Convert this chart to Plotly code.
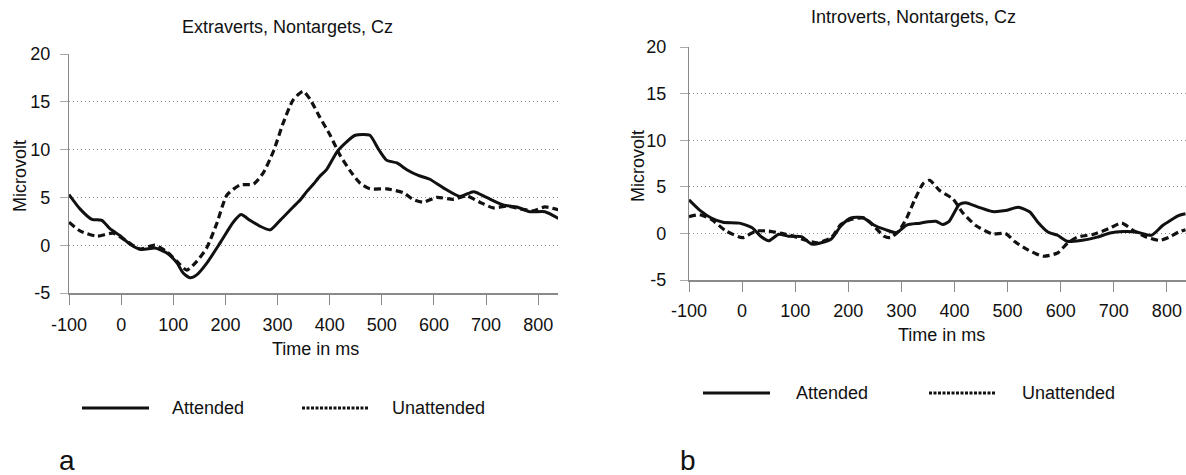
import plotly.graph_objects as go

W, H = 1186, 475

# ---------------- data ----------------
ticks_x = [-100, 0, 100, 200, 300, 400, 500, 600, 700, 800]
ticks_x_text = ["-100", "0", "100", "200", "300", "400", "500", "600", "700", "800"]
ticks_y = [-5, 0, 5, 10, 15, 20]
ticks_y_text = ["-5", "0", "5", "10", "15", "20"]

ext_att_t = [-100, -79, -56, -37, -21, -2, 17, 39, 65, 87, 107, 119, 132, 145, 164, 190, 215, 230, 247, 266,
             286, 305, 330, 343, 356, 369, 381, 394, 416, 449, 477, 493, 509, 529, 548, 570, 592, 618, 650, 676,
             701, 733, 759, 784, 813, 839]
ext_att_v = [5.3, 3.8, 2.7, 2.6, 1.7, 1.0, 0.1, -0.45, -0.3, -0.8, -1.85, -2.9, -3.4, -3.1, -1.9, 0.25, 2.4, 3.2, 2.6, 2.0,
             1.6, 2.6, 4.0, 4.7, 5.6, 6.4, 7.2, 7.9, 9.9, 11.5, 11.5, 10.1, 8.9, 8.6, 7.9, 7.3, 6.9, 6.0, 5.1, 5.6,
             5.0, 4.2, 4.0, 3.5, 3.5, 2.8]

ext_un_t = [-100, -79, -47, -15, 11, 36, 65, 87, 107, 126, 145, 164, 183, 203, 228, 254, 273, 292, 311, 330,
            349, 362, 381, 401, 420, 439, 458, 477, 509, 541, 560, 580, 605, 637, 663, 688, 714, 740, 765, 791,
            813, 839]
ext_un_v = [2.4, 1.5, 0.95, 1.25, 0.4, -0.4, 0.0, -0.65, -1.7, -2.6, -1.7, -0.3, 2.2, 5.25, 6.3, 6.4, 7.6, 9.8, 12.8, 15.2,
            16.1, 15.3, 13.4, 11.5, 9.4, 7.8, 6.5, 5.9, 5.9, 5.5, 4.8, 4.5, 5.0, 4.8, 5.15, 4.5, 3.9, 4.1, 3.8, 3.6,
            4.0, 3.7]

int_att_t = [-100, -80, -58, -36, -5, 19, 35, 50, 69, 87, 112, 131, 149, 168, 186, 205, 227, 248, 270, 291,
             310, 335, 350, 365, 378, 390, 409, 421, 446, 471, 496, 520, 542, 557, 576, 594, 613, 638, 669, 693,
             718, 743, 771, 792, 822, 835]
int_att_v = [3.6, 2.5, 1.65, 1.2, 1.1, 0.6, -0.3, -0.8, -0.1, -0.3, -0.35, -1.15, -1.0, -0.6, 0.8, 1.65, 1.7, 0.9, 0.4, 0.07,
             0.9, 1.1, 1.25, 1.3, 0.95, 1.3, 3.1, 3.3, 2.8, 2.35, 2.45, 2.8, 2.3, 1.2, 0.15, -0.2, -0.85, -0.75, -0.4, 0.05,
             0.2, 0.15, -0.2, 0.85, 1.9, 2.1]

int_un_t = [-100, -80, -58, -30, 1, 26, 50, 75, 97, 118, 143, 168, 186, 205, 230, 248, 267, 279, 295, 310,
            325, 341, 353, 372, 397, 415, 440, 471, 496, 514, 539, 567, 594, 613, 631, 662, 690, 715, 737, 762,
            786, 805, 822, 835]
int_un_v = [1.8, 2.0, 1.5, 0.25, -0.45, 0.25, 0.25, 0.0, -0.3, -0.7, -1.0, -0.45, 0.95, 1.5, 1.65, 0.8, -0.3, -0.45, 0.25, 1.65,
            3.6, 5.35, 5.7, 4.6, 3.7, 2.25, 0.85, -0.05, 0.0, -0.9, -1.8, -2.45, -2.1, -1.05, -0.4, -0.1, 0.5, 1.1, 0.3, -0.4,
            -0.75, -0.4, 0.15, 0.4]

panel_titles = ["Extraverts, Nontargets, Cz", "Introverts, Nontargets, Cz"]
series_names = ["Attended", "Unattended"]
panel_letters = ["a", "b"]

# ---------------- figure ----------------
FONT = "Liberation Sans, Arial, Helvetica, sans-serif"
INK = "#111111"
AX = "#8a8a8a"

fig = go.Figure()

def add_pair(t_a, v_a, t_u, v_u, xa, ya):
    fig.add_trace(go.Scatter(x=t_a, y=v_a, mode="lines", name=series_names[0], xaxis=xa, yaxis=ya,
                             line=dict(color=INK, width=3, shape="spline", smoothing=0.6), showlegend=False))
    fig.add_trace(go.Scatter(x=t_u, y=v_u, mode="lines", name=series_names[1], xaxis=xa, yaxis=ya,
                             line=dict(color=INK, width=3.2, dash="7px,4px", shape="spline", smoothing=0.6),
                             showlegend=False))

add_pair(ext_att_t, ext_att_v, ext_un_t, ext_un_v, "x", "y")
add_pair(int_att_t, int_att_v, int_un_t, int_un_v, "x2", "y2")

def px(xp):
    return xp / W

def py(yp):
    return 1 - yp / H

def xaxis(dom, rng, standoff, anchor):
    return dict(domain=dom, range=rng, tickvals=ticks_x, ticktext=ticks_x_text, ticks="outside", ticklen=10,
                tickwidth=1, tickcolor=AX, showline=True, linecolor=AX, linewidth=1.5, showgrid=False,
                zeroline=False, automargin=False, anchor=anchor, ticklabeloverflow="allow",
                tickfont=dict(family=FONT, size=18, color=INK), ticklabelstandoff=standoff, fixedrange=True)

def yaxis(dom, standoff, anchor):
    return dict(domain=dom, range=[-5, 20], tickvals=ticks_y, ticktext=ticks_y_text, ticks="outside", ticklen=8,
                tickwidth=1, tickcolor="#aaaaaa", showline=True, linecolor=AX, linewidth=1.2, showgrid=True,
                gridcolor="#8f8f8f", griddash="1px,3px", gridwidth=1, zeroline=False, anchor=anchor,
                automargin=False, ticklabeloverflow="allow",
                tickfont=dict(family=FONT, size=18, color=INK), ticklabelstandoff=standoff, fixedrange=True)

fig.update_layout(
    width=W, height=H,
    margin=dict(l=0, r=0, t=0, b=0, autoexpand=False),
    paper_bgcolor="white", plot_bgcolor="white",
    showlegend=False,
    xaxis=xaxis([px(69), px(558)], [-100, 838], 5, "y"),
    yaxis=yaxis([py(293), py(54)], 6, "x"),
    xaxis2=xaxis([px(689), 1.0], [-100, 836], 4, "y2"),
    yaxis2=yaxis([py(280), py(47)], 10, "x2"),
)

ann = []
def text(s, x, y, size=18, angle=0):
    ann.append(dict(text=s, x=px(x), y=py(y), xref="paper", yref="paper", showarrow=False,
                    xanchor="center", yanchor="middle", textangle=angle,
                    font=dict(family=FONT, size=size, color=INK)))

# titles
text(panel_titles[0], 287, 27)
text(panel_titles[1], 913, 17)
# axis titles
text("Microvolt", 20, 176, angle=-90)
text("Microvolt", 638, 166, angle=-90)
text("Time in ms", 315, 349)
text("Time in ms", 942, 335)
# legends
shapes = []
def legend(x0, y, xt1, xd0, xt2):
    shapes.append(dict(type="line", xref="paper", yref="paper", x0=px(x0), x1=px(x0 + 67), y0=py(y), y1=py(y),
                       line=dict(color=INK, width=3)))
    shapes.append(dict(type="line", xref="paper", yref="paper", x0=px(xd0), x1=px(xd0 + 67), y0=py(y), y1=py(y),
                       line=dict(color=INK, width=3, dash="3px,1.5px")))
    ann.append(dict(text=series_names[0], x=px(xt1), y=py(y), xref="paper", yref="paper", showarrow=False,
                    xanchor="left", yanchor="middle", font=dict(family=FONT, size=18, color=INK)))
    ann.append(dict(text=series_names[1], x=px(xt2), y=py(y), xref="paper", yref="paper", showarrow=False,
                    xanchor="left", yanchor="middle", font=dict(family=FONT, size=18, color=INK)))

legend(82, 408, 170, 302, 390)
legend(703, 393, 794, 929, 1020)

text(panel_letters[0], 67, 460, size=28)
text(panel_letters[1], 688, 460, size=28)

fig.update_layout(annotations=ann, shapes=shapes)
fig.write_html("out.html")
